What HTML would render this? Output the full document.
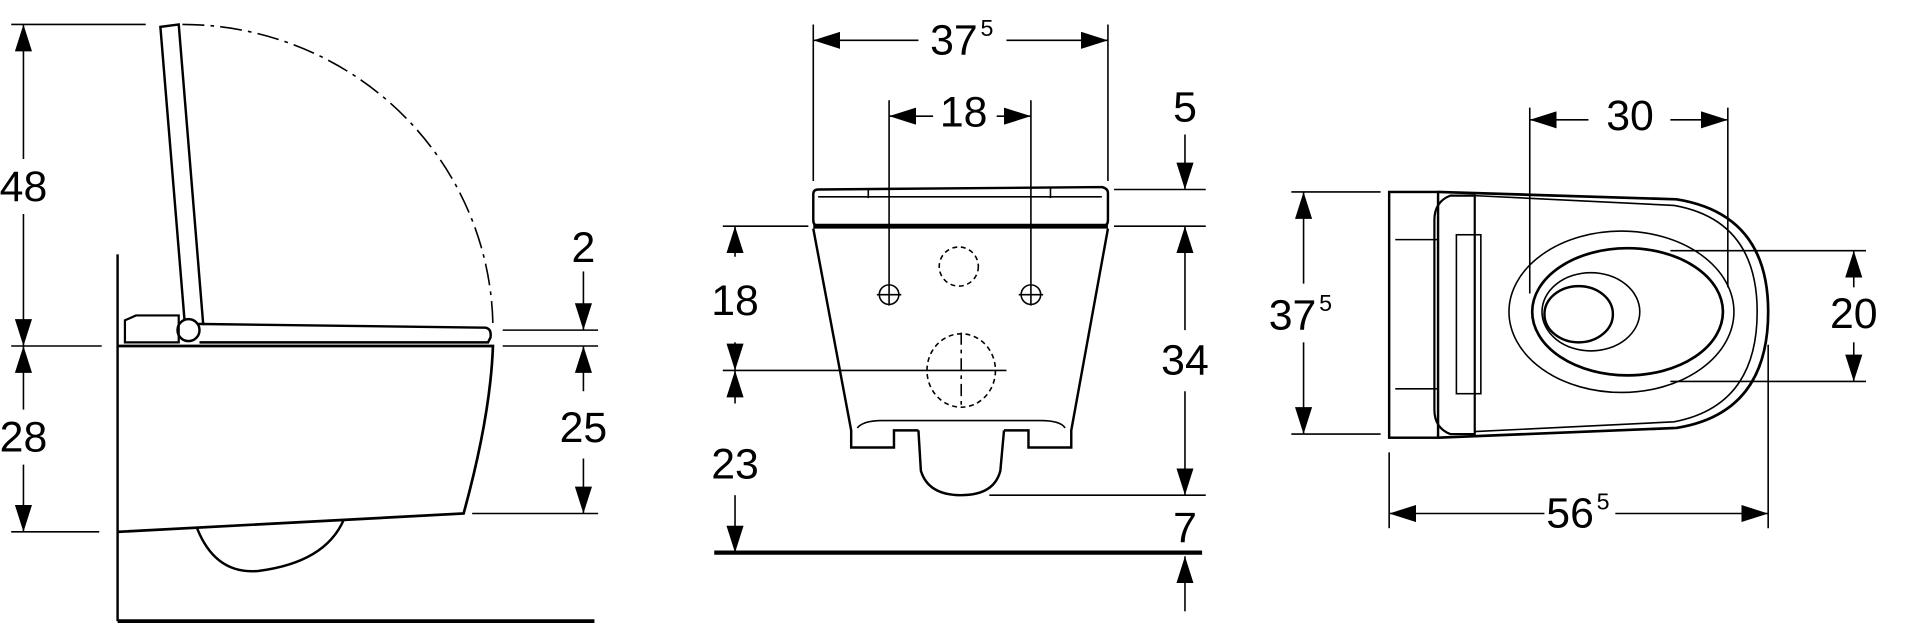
<!DOCTYPE html>
<html><head><meta charset="utf-8"><style>
html,body{margin:0;padding:0;background:#fff;}
svg{display:block}
text{font-family:"Liberation Sans Narrow","Liberation Sans",sans-serif;font-size:35px;fill:#000;text-anchor:middle;dominant-baseline:central}
.s{font-size:19px}
</style></head><body>
<svg width="1920" height="626" viewBox="0 0 1568 512" xmlns="http://www.w3.org/2000/svg">
<defs>
<marker id="a" markerUnits="userSpaceOnUse" markerWidth="22" markerHeight="14" refX="22" refY="7" orient="auto"><path d="M0,0 L22,7 L0,14 z" fill="#000"/></marker>
</defs>
<g stroke="#000" stroke-width="1.3" fill="none">
<line x1="8" y1="20" x2="118" y2="20"/>
<line x1="8" y1="283" x2="82" y2="283"/>
<line x1="8" y1="435" x2="80" y2="435"/>
<line x1="18" y1="130" x2="18" y2="20" marker-end="url(#a)"/>
<line x1="18" y1="175" x2="18" y2="283" marker-end="url(#a)"/>
<line x1="18" y1="335" x2="18" y2="283" marker-end="url(#a)"/>
<line x1="18" y1="380" x2="18" y2="435" marker-end="url(#a)"/>
<line x1="95" y1="208" x2="95" y2="508" stroke-width="2"/>
<line x1="95" y1="508" x2="485" y2="508" stroke-width="3"/>
<path d="M130,22 L145,20 L165,265 L150,265 Z" stroke-width="2"/>
<circle cx="153" cy="270" r="9" stroke-width="2" fill="#fff"/>
<path d="M101,262 L101,280 L145,280 L145,258 L110,258 Z" stroke-width="1.8"/>
<path d="M165,265 L396,268 Q401,269 400,276 L398,280 L162,280" stroke-width="2"/>
<path d="M148,20 A254 250 0 0 1 402,268" stroke-dasharray="18 5 3 5"/>
<path d="M95,283 L402,283 Q400,340 378,420 L95,435" stroke-width="2.2"/>
<path d="M160,432 Q175,470 210,467 Q265,460 280,425" stroke-width="2"/>
<line x1="410" y1="270" x2="488" y2="270"/>
<line x1="410" y1="283" x2="488" y2="283"/>
<line x1="385" y1="420" x2="488" y2="420"/>
<line x1="476" y1="222" x2="476" y2="270" marker-end="url(#a)"/>
<line x1="476" y1="320" x2="476" y2="283" marker-end="url(#a)"/>
<line x1="476" y1="375" x2="476" y2="420" marker-end="url(#a)"/>
<line x1="664" y1="20" x2="664" y2="148"/>
<line x1="905" y1="20" x2="905" y2="148"/>
<line x1="750" y1="33" x2="664" y2="33" marker-end="url(#a)"/>
<line x1="822" y1="33" x2="905" y2="33" marker-end="url(#a)"/>
<line x1="726" y1="82" x2="726" y2="250"/>
<line x1="842" y1="82" x2="842" y2="250"/>
<line x1="762" y1="95" x2="726" y2="95" marker-end="url(#a)"/>
<line x1="814" y1="95" x2="842" y2="95" marker-end="url(#a)"/>
<path d="M668,155 L900,153 Q905,154 905,158 L905,180 Q905,185 900,185 L669,185 Q664,185 664,180 L664,159 Q664,155 668,155 Z" stroke-width="2"/>
<line x1="668" y1="161" x2="900" y2="161"/>
<line x1="709" y1="154" x2="709" y2="162"/><line x1="858" y1="154" x2="858" y2="162"/>
<line x1="664" y1="185" x2="905" y2="185" stroke-width="4"/>
<path d="M664,187 L695,352 L695,366 L730,366 L730,352 L750,352" stroke-width="2"/>
<path d="M905,187 L875,352 L875,366 L840,366 L840,352 L820,352" stroke-width="2"/>
<path d="M700,350 Q705,344 720,344 L850,344 Q866,344 870,350" />
<path d="M750,352 L752,385 Q758,405 785,405 Q812,405 817,385 L820,352" stroke-width="2"/>
<circle cx="783" cy="218" r="16" stroke-dasharray="4 3"/>
<circle cx="726" cy="241" r="8"/><line x1="716" y1="241" x2="736" y2="241"/>
<circle cx="842" cy="241" r="8"/><line x1="832" y1="241" x2="852" y2="241"/>
<ellipse cx="785" cy="303" rx="28" ry="30" stroke-dasharray="4 3"/>
<line x1="590" y1="303" x2="822" y2="303"/>
<line x1="785" y1="272" x2="785" y2="333" stroke-dasharray="10 4 3 4"/>
<line x1="590" y1="185" x2="660" y2="185"/>
<line x1="600" y1="210" x2="600" y2="185" marker-end="url(#a)"/>
<line x1="600" y1="280" x2="600" y2="303" marker-end="url(#a)"/>
<line x1="600" y1="330" x2="600" y2="303" marker-end="url(#a)"/>
<line x1="600" y1="405" x2="600" y2="452" marker-end="url(#a)"/>
<line x1="583" y1="452" x2="982" y2="452" stroke-width="3.5"/>
<line x1="910" y1="155" x2="985" y2="155"/>
<line x1="910" y1="185" x2="985" y2="185"/>
<line x1="808" y1="405" x2="985" y2="405"/>
<line x1="968" y1="110" x2="968" y2="155" marker-end="url(#a)"/>
<line x1="968" y1="270" x2="968" y2="185" marker-end="url(#a)"/>
<line x1="968" y1="320" x2="968" y2="405" marker-end="url(#a)"/>
<line x1="968" y1="500" x2="968" y2="455" marker-end="url(#a)"/>
<line x1="1055" y1="157" x2="1128" y2="157"/>
<line x1="1055" y1="355" x2="1128" y2="355"/>
<line x1="1065" y1="232" x2="1065" y2="157" marker-end="url(#a)"/>
<line x1="1065" y1="280" x2="1065" y2="355" marker-end="url(#a)"/>
<rect x="1135" y="157" width="40" height="201" stroke-width="2"/>
<line x1="1140" y1="196" x2="1175" y2="196"/><line x1="1140" y1="318" x2="1175" y2="318"/>
<path d="M1175,157 L1370,163 Q1445,175 1445,255 Q1445,338 1370,350 L1175,358" stroke-width="2.2"/>
<path d="M1205,160 L1368,168 Q1436,180 1436,255 Q1436,332 1368,345 L1205,353"/>
<path d="M1185,160 Q1172,165 1172,180 L1172,335 Q1172,350 1185,355 L1205,355 L1205,160 Z" stroke-width="1.8"/>
<rect x="1190" y="192" width="20" height="130"/>
<ellipse cx="1325" cy="255" rx="92" ry="66"/>
<ellipse cx="1330" cy="255" rx="78" ry="52" stroke-width="2.2"/>
<ellipse cx="1300" cy="255" rx="40" ry="32"/>
<ellipse cx="1290" cy="257" rx="28" ry="23" stroke-width="2"/>
<line x1="1250" y1="88" x2="1250" y2="240"/>
<line x1="1412" y1="88" x2="1412" y2="235"/>
<line x1="1298" y1="98" x2="1250" y2="98" marker-end="url(#a)"/>
<line x1="1365" y1="98" x2="1412" y2="98" marker-end="url(#a)"/>
<line x1="1365" y1="205" x2="1525" y2="205"/>
<line x1="1365" y1="312" x2="1525" y2="312"/>
<line x1="1515" y1="235" x2="1515" y2="205" marker-end="url(#a)"/>
<line x1="1515" y1="280" x2="1515" y2="312" marker-end="url(#a)"/>
<line x1="1135" y1="370" x2="1135" y2="432"/>
<line x1="1445" y1="282" x2="1445" y2="432"/>
<line x1="1262" y1="420" x2="1135" y2="420" marker-end="url(#a)"/>
<line x1="1320" y1="420" x2="1445" y2="420" marker-end="url(#a)"/>
</g>
<text x="18" y="153">48</text>
<text x="18" y="358">28</text>
<text x="476" y="203">2</text>
<text x="476" y="350">25</text>
<text x="779" y="33">37</text><text class="s" x="806" y="23">5</text>
<text x="787" y="92">18</text>
<text x="600" y="246">18</text>
<text x="600" y="380">23</text>
<text x="968" y="88">5</text>
<text x="968" y="295">34</text>
<text x="968" y="432">7</text>
<text x="1056" y="258">37</text><text class="s" x="1083" y="248">5</text>
<text x="1332" y="95">30</text>
<text x="1515" y="257">20</text>
<text x="1283" y="420">56</text><text class="s" x="1310" y="410">5</text>
</svg>
</body></html>
